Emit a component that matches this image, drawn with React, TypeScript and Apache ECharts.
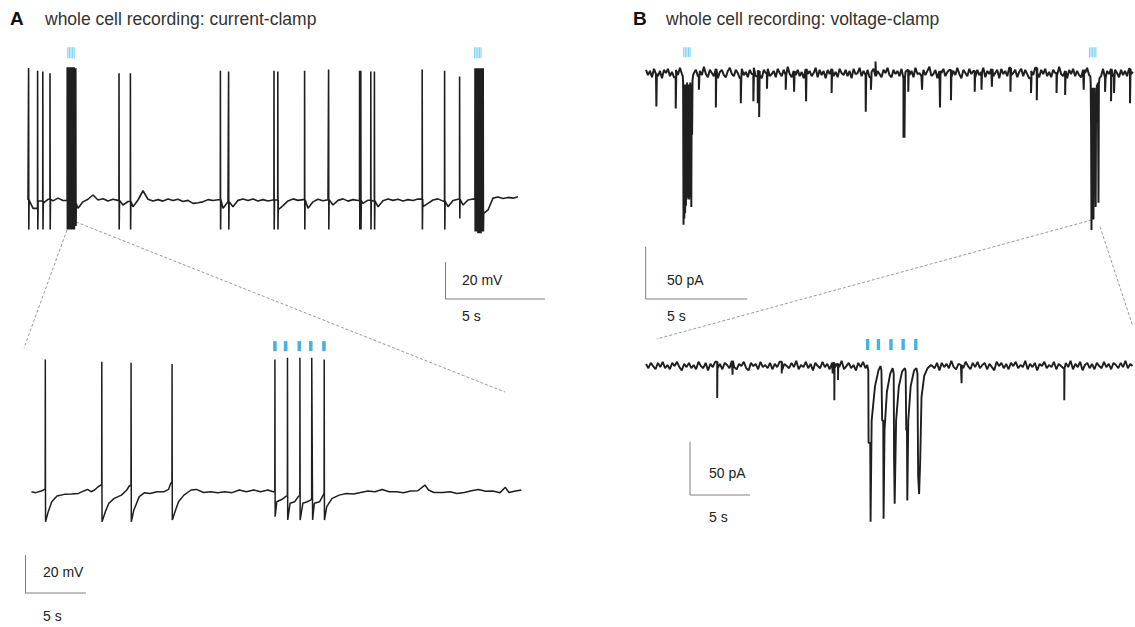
import React, { useEffect, useRef } from 'react';
import * as echarts from 'echarts';

// ---------- DATA ----------
// Panel A top (current clamp, overview): baseline samples (mV) every 0.25 s
const BASE_DT_A = 0.25;
const baseTopA = [
  -60.0, -64.5, -60.5, -61.8, -59.6, -60.5, -59.0, -60.3, -60.0, -62.0,
  -64.5, -61.0, -59.6, -57.3, -60.0, -59.3, -60.5, -59.6, -60.2, -62.7,
  -60.8, -63.6, -60.0, -55.0, -59.6, -60.5, -59.8, -60.6, -59.5, -60.3,
  -59.6, -60.8, -60.2, -61.8, -61.5, -61.0, -59.8, -60.3, -59.9, -64.5,
  -61.0, -63.6, -60.2, -59.5, -60.3, -59.4, -60.5, -59.8, -60.5, -60.0,
  -65.4, -63.0, -60.5, -59.4, -60.2, -59.8, -64.5, -61.0, -59.6, -60.4,
  -59.9, -62.7, -60.2, -59.4, -60.6, -59.8, -60.3, -61.8, -60.1, -60.5,
  -63.6, -60.4, -59.5, -60.2, -59.6, -60.5, -59.8, -60.3, -59.5, -63.6,
  -61.8, -60.0, -59.4, -60.6, -63.6, -60.3, -59.6, -62.7, -60.0, -59.5,
  -62.0, -67.2, -65.4, -59.0, -58.4, -59.2, -58.6, -59.0, -58.2,
];
// spikes: [time s, peak mV, trough mV]
const spikesTopA = [
  [0.03, 11.4, -76], [0.48, 9.9, -76], [0.74, 9.4, -76], [1.10, 8.5, -76],
  [1.96, 11.7, -76], [2.03, 11.7, -76], [2.10, 11.7, -76], [2.17, 11.7, -76],
  [2.24, 11.7, -76], [2.31, 11.7, -76], [2.39, 11.2, -74],
  [4.55, 8.5, -76], [5.12, 8.5, -76], [9.62, 9.9, -76], [10.03, 9.4, -76],
  [12.30, 9.9, -76], [12.49, 9.4, -76], [13.83, 9.9, -76], [15.03, 10.6, -76],
  [16.58, 9.9, -76], [16.64, 9.9, -76], [17.14, 9.4, -76], [17.32, 9.4, -76],
  [19.71, 10.6, -76], [20.83, 9.9, -76], [21.58, 6.7, -70],
  [22.35, 11.2, -77], [22.42, 11.2, -77], [22.49, 11.2, -78], [22.56, 11.2, -78],
  [22.64, 11.2, -78], [22.71, 11.2, -77], [22.76, 11.2, -77],
];
const stimTopA = [1.99, 2.07, 2.15, 2.23, 2.31, 22.33, 22.41, 22.49, 22.57, 22.65];

// Panel A bottom (expanded): [time s, mV]
const traceBottomA = [
  [0, -60], [0.35, -60.5], [0.8, -59.6], [1.0, -59.1],
  [1.13, -58.5], [1.14, 9.6], [1.16, -75.8], [1.38, -70.5], [1.67, -65.3], [2.1, -62.3],
  [2.7, -61.4], [3.28, -61.2], [3.86, -60.9], [4.3, -59.6], [4.6, -58.8], [4.89, -60],
  [5.18, -59.1], [5.47, -57.4], [5.7, -56.5],
  [5.76, -56.0], [5.77, 8.4], [5.79, -75.8], [6.06, -70.5], [6.35, -66.1], [6.79, -63.5],
  [7.38, -61.8], [7.82, -59.1], [8.02, -57],
  [8.16, -56.5], [8.17, 7.9], [8.19, -75.8], [8.4, -69.6], [8.84, -62.6], [9.28, -60.5],
  [9.72, -60.9], [10.3, -60], [10.89, -60], [11.24, -58.8], [11.42, -55.6],
  [11.52, -55.0], [11.53, 7.2], [11.55, -74.9], [11.77, -70.5], [12.06, -65.3], [12.5, -61.8],
  [13.09, -59.1], [13.52, -58.8], [14.11, -60.4], [14.7, -60], [15.28, -60.5],
  [15.87, -60], [16.45, -60.5], [17.04, -59.1], [17.62, -60], [18.21, -59.1],
  [18.79, -60], [19.38, -59.1], [19.82, -60],
  [19.95, -60], [19.96, 9.6], [19.98, -73.2], [20.11, -65.3], [20.55, -64], [20.84, -62.6],
  [20.98, -62.0], [20.99, 10.5], [21.01, -74.9], [21.2, -66.1], [21.58, -65.3], [21.87, -62.6],
  [22.0, -62.0], [22.01, 10.5], [22.03, -74.9], [22.25, -66.1], [22.6, -65.3], [22.89, -64.4],
  [22.97, -63.5], [22.98, 10.5], [23.05, -74.9], [23.19, -66.1], [23.62, -65.3], [23.92, -61.8],
  [23.99, -61.0], [24.0, 9.6], [24.02, -74.9], [24.21, -67.9], [24.65, -63.5], [25.23, -61.8],
  [25.82, -60.9], [26.4, -61.2], [26.99, -60.4], [27.58, -59.6], [28.16, -60],
  [28.75, -58.8], [29.33, -60], [29.92, -60], [30.5, -60.5], [31.09, -59.6],
  [31.67, -59.5], [32.26, -56.5], [32.55, -59.1], [33.0, -60.4], [33.72, -60.4],
  [34.31, -60], [34.89, -60.9], [35.48, -60.4], [36.07, -59.5], [36.65, -58.8],
  [37.24, -59.8], [37.82, -59.6], [38.41, -60.5], [38.85, -57.7], [39.14, -60.4],
  [39.58, -59.8], [40.16, -59.1],
];
const stimBottomA = [19.96, 20.84, 21.96, 22.9, 23.98];

// Panel B top (voltage clamp, overview): baseline noise (pA) every 0.1 s
const BASE_DT_BT = 0.1;
const baseTopB = [
  2, -3, 1, -5, 3, -2, -4, 1, -6, 2,
  -1, 3, -4, 0, -5, 2, -3, 4, -2, -6,
  1, -3, 3, -5, -1, 2, -4, 1, -3, 5,
  -2, -5, 2, -1, -4, 3, -6, 0, 2, -3,
  -5, 1, 4, -2, -4, 2, -1, -6, 3, -3,
  0, -5, 2, -2, 4, -4, 1, -3, -6, 2,
  -1, 3, -4, -2, 1, -5, 3, -1, -4, 2,
  -3, 5, -2, -5, 1, -3, 2, -4, 0, -6,
  3, -2, 1, -4, -1, 4, -5, 2, -3, 1,
  -6, 2, -2, 3, -4, 0, -5, 3, -1, -3,
  2, -4, 1, -6, 3, -2, -1, 4, -4, 1,
  -3, 2, -5, 0, 3, -4, 1, -2, -5, 2,
  -1, 4, -3, -5, 2, -2, 1, -4, 3, -6,
  0, 2, -3, 1, -5, 4, -2, -1, -4, 2,
  -3, 1, 5, -4, -2, 2, -6, 1, -1, 3,
  -4, 0, 2, -5, 1, -3, 4, -2, -6, 2,
  -1, -4, 3, -2, 1, -5, 2, -3, 0, 4,
  -5, 1, -2, 3, -4, -1, 2, -6, 3, -2,
  1, -4, 4, -3, -1, 2, -5, 0, 3, -4,
  2, -2, -6, 1, -3, 4, -1, -5, 2, -2,
  3, -4, 0, -5, 2, -1, -3, 5, -2, -4,
  1, -6, 2, -2, 3, -4, 1, -3, -5, 2,
  -1, 4, -3, 0, -5, 2, -2, 1, -4, 3,
  -6, 1, -2, 3, -4, 2, -1, -5, 2, -3,
  1, -4, 3, -2, 0,
];
// single events: [time s, amplitude pA]
const eventsTopB = [
  [0.52, -33], [1.49, -35], [2.65, -17], [3.5, -34], [4.75, -30], [5.38, -28],
  [5.6, -30], [5.67, -43], [6.06, -16], [7.0, -17], [7.42, -19], [8.02, -28],
  [9.3, -20], [11.01, -38], [11.27, -17], [11.5, 10], [12.9, -63], [12.95, -63],
  [13.14, -19], [13.83, -17], [14.73, -34], [15.28, -27], [16.47, -19], [16.81, -17],
  [17.33, -14], [18.26, -19], [19.29, -20], [19.58, -27], [20.57, -20], [21.0, -22],
  [21.93, -17], [23.0, -19], [23.3, -28], [23.45, -20], [24.25, -30],
];
// evoked bursts: [time s, pA]
const burst1TopB = [
  [1.84, -4], [1.86, -10], [1.88, -146], [1.9, -12], [1.92, -140], [1.94, -15],
  [1.96, -135], [1.98, -12], [2.0, -128], [2.02, -15], [2.04, -122], [2.06, -10],
  [2.08, -120], [2.1, -14], [2.12, -118], [2.14, -12], [2.16, -122], [2.18, -15],
  [2.2, -120], [2.22, -10], [2.24, -118], [2.26, -14], [2.27, -129], [2.29, -12],
  [2.31, -60], [2.33, -8], [2.36, -3],
];
const burst2TopB = [
  [22.26, -4], [22.28, -10], [22.3, -50], [22.32, -151], [22.34, -20], [22.36, -55],
  [22.38, -15], [22.4, -52], [22.42, -141], [22.44, -18], [22.46, -54], [22.48, -15],
  [22.5, -50], [22.53, -129], [22.55, -20], [22.57, -48], [22.59, -12], [22.62, -30],
  [22.64, -10], [22.67, -125], [22.69, -12], [22.72, -6],
];
const stimTopB = [1.89, 1.97, 2.05, 2.13, 2.21, 22.22, 22.3, 22.38, 22.46, 22.54];

// Panel B bottom (expanded): baseline noise (pA) every 0.2 s
const BASE_DT_BB = 0.2;
const baseBottomB = [
  1, -3, 2, -1, -4, 2, -2, 3, -3, 0,
  -4, 2, -1, 3, -2, -5, 1, -2, 2, -3,
  0, -4, 3, -1, -3, 2, -5, 1, -2, 3,
  -3, 1, -4, 2, 0, -3, 4, -2, -4, 1,
  -1, 3, -3, -5, 2, -1, 1, -4, 3, -2,
  0, -3, 2, -4, 1, -2, 3, -5, 1, -1,
  -3, 2, -2, 4, -4, 0, -2, 3, -3, 1,
  -5, 2, -1, -3, 3, -2, 1, -4, 2, -3,
  1, -2, 4, -4, -1, 2, -3, 0, -5, 2,
  -2, 3, -3, 1, -4, 2, -1, -3, 3, -2,
  0, -4, 2, -2, 3, -5, 1, -1, -3, 2,
  -2, 4, -3, 0, -4, 1, -2, 3, -4, 1,
  -1, -3, 2, -5, 2, -2, 1, -3, 4, -2,
  -4, 1, 0, -3, 3, -1, -4, 2, -2, 3,
  -3, 0, 2, -4, 1, -2, -5, 3, -1, 2,
  -3, 1, -4, 2, -1, 3, -3, 0, -2, 4,
  -4, 1, -2, 2, -5, 1, -1, 3, -3, 0,
  -2, 3, -4, 1, -1, -3, 2, -2, 4, -4,
  1, -2, 3, -5, 0, 2, -3, 1, -4, 2,
  -1, -3, 3, -2, 1, -4, 2, 0, -3, 2,
  -2, 4, -3, 1, -1,
];
const eventsBottomB = [
  [5.97, -31], [7.26, -9], [11.38, -8], [15.65, -8], [15.79, -33], [16.1, -14],
  [26.46, -17], [35.07, -33],
];
const evokedBottomB = [
  [18.55, 0], [18.64, -5], [18.66, -73], [18.8, -73], [18.83, -147], [18.92, -52],
  [19.2, -20], [19.49, -5], [19.66, -1],
  [19.74, -5], [19.8, -52], [19.89, -52], [19.92, -144], [20.0, -61], [20.2, -25],
  [20.48, -8], [20.68, -3],
  [20.77, -8], [20.8, -89], [20.83, -89], [20.85, -130], [20.97, -52], [21.2, -20],
  [21.48, -6], [21.71, -3],
  [21.77, -6], [21.82, -61], [21.88, -61], [21.91, -127], [21.99, -52], [22.19, -20],
  [22.48, -5], [22.67, -3],
  [22.76, -8], [22.82, -105], [22.87, -105], [22.9, -121], [22.99, -90], [23.1, -30],
  [23.33, -10], [23.61, -3], [23.9, 0],
];
const stimBottomB = [18.58, 19.49, 20.54, 21.56, 22.62];

// ---------- helpers ----------
type Pt = number[];
function buildTrace(base: number[], dt: number, events: number[][], segments: Pt[][]): Pt[] {
  const items: { t: number; k: string; v?: number; e?: number[]; g?: Pt[] }[] = [];
  base.forEach((v, i) => {
    const t = i * dt;
    const inside = segments.some((g) => t >= g[0][0] && t <= g[g.length - 1][0]);
    if (!inside) items.push({ t, k: 'b', v });
  });
  events.forEach((e) => items.push({ t: e[0], k: 'e', e }));
  segments.forEach((g) => items.push({ t: g[0][0], k: 'g', g }));
  items.sort((a, b) => a.t - b.t);
  const out: Pt[] = [];
  let last = base[0];
  for (const it of items) {
    if (it.k === 'b') {
      out.push([it.t, it.v as number]);
      last = it.v as number;
    } else if (it.k === 'e') {
      const e = it.e as number[];
      out.push([e[0] - 0.004, last], [e[0], e[1]]);
      if (e.length > 2) out.push([e[0] + 0.01, e[2]]);
      out.push([e[0] + 0.025, last]);
    } else {
      const g = it.g as Pt[];
      g.forEach((p) => out.push(p));
      last = g[g.length - 1][1];
    }
  }
  return out;
}

const FONT = '"Liberation Sans", Arial, Helvetica, sans-serif';
const TRACE = '#1f1f1f';
const LIGHT_BLUE = '#5cc8f0';
const BLUE = '#1a9ed8';
const BAR = '#808080';
const DASH = '#9a9a9a';

function txt(text: string, x: number, y: number, size: number, color: string, bold = false) {
  return {
    type: 'text',
    x,
    y,
    silent: true,
    style: {
      text,
      font: `${bold ? 'bold ' : ''}${size}px ${FONT}`,
      fill: color,
      textVerticalAlign: 'middle',
      verticalAlign: 'middle',
    },
  };
}
function ln(x1: number, y1: number, x2: number, y2: number, color: string, dash?: number[]) {
  return {
    type: 'line',
    silent: true,
    shape: { x1, y1, x2, y2 },
    style: { stroke: color, lineWidth: 1, lineDash: dash },
  };
}

export default function App() {
  const ref = useRef<HTMLDivElement>(null);
  useEffect(() => {
    document.body.style.margin = '0';
    const chart = echarts.init(ref.current as HTMLDivElement, null, { renderer: 'svg' });

    const topA = buildTrace(baseTopA, BASE_DT_A, spikesTopA, []);
    const topB = buildTrace(baseTopB, BASE_DT_BT, eventsTopB, [burst1TopB, burst2TopB]);
    const botB = buildTrace(baseBottomB, BASE_DT_BB, eventsBottomB, [evokedBottomB]);

    const grids = [
      { left: 28, top: 42.75, width: 500, height: 194.25 },
      { left: 31.4, top: 339.7, width: 500.2, height: 190 },
      { left: 646, top: 40.6, width: 490, height: 198.7 },
      { left: 646, top: 333, width: 492, height: 202.7 },
    ];
    const xr = [[0, 25], [0, 41], [0, 24.5], [0, 41]];
    const yr = [[-80, 25], [-80, 20], [-160, 30], [-160, 30]];

    const lineSeries = (data: Pt[], idx: number, width: number) => ({
      type: 'line',
      xAxisIndex: idx,
      yAxisIndex: idx,
      data,
      symbol: 'none',
      silent: true,
      lineStyle: { color: TRACE, width },
      z: 3,
    });
    const stimSeries = (times: number[], level: number, idx: number, size: number[], color: string) => ({
      type: 'scatter',
      xAxisIndex: idx,
      yAxisIndex: idx,
      data: times.map((t) => [t, level]),
      symbol: 'rect',
      symbolSize: size,
      silent: true,
      itemStyle: { color },
      z: 4,
    });

    chart.setOption({
      animation: false,
      backgroundColor: '#ffffff',
      grid: grids.map((g) => ({ ...g, containLabel: false })),
      xAxis: xr.map((r, i) => ({ type: 'value', gridIndex: i, min: r[0], max: r[1], show: false })),
      yAxis: yr.map((r, i) => ({ type: 'value', gridIndex: i, min: r[0], max: r[1], show: false })),
      series: [
        lineSeries(topA, 0, 1.6),
        lineSeries(traceBottomA, 1, 1.5),
        lineSeries(topB, 2, 2.0),
        lineSeries(botB, 3, 1.9),
        stimSeries(stimTopA, 19.6, 0, [1.1, 11], LIGHT_BLUE),
        stimSeries(stimBottomA, 16.6, 1, [3.6, 10], BLUE),
        stimSeries(stimTopB, 18.8, 2, [1.1, 10], LIGHT_BLUE),
        stimSeries(stimBottomB, 19.2, 3, [3.4, 11], BLUE),
      ],
      graphic: [
        txt('A', 10, 18, 19, '#111', true),
        txt('whole cell recording: current-clamp', 45, 18.5, 17.5, '#333'),
        txt('B', 633, 18, 19, '#111', true),
        txt('whole cell recording: voltage-clamp', 666, 18.5, 17.5, '#333'),
        // scale bars A top
        ln(445.5, 262, 445.5, 299, BAR),
        ln(445, 299, 545, 299, BAR),
        txt('20 mV', 462, 280, 14, '#222'),
        txt('5 s', 462, 316, 14, '#222'),
        // scale bars A bottom
        ln(25.5, 555, 25.5, 593, BAR),
        ln(25, 593, 86, 593, BAR),
        txt('20 mV', 43, 572, 14, '#222'),
        txt('5 s', 43, 616, 14, '#222'),
        // scale bars B top
        ln(645.7, 246.7, 645.7, 299, BAR),
        ln(645.5, 299, 747.3, 299, BAR),
        txt('50 pA', 667, 280, 14, '#222'),
        txt('5 s', 667, 316, 14, '#222'),
        // scale bars B bottom
        ln(690, 441.7, 690, 495, BAR),
        ln(690, 495, 750, 495, BAR),
        txt('50 pA', 709, 472.7, 14, '#222'),
        txt('5 s', 709, 517, 14, '#222'),
        // zoom lines
        ln(67, 230, 24, 348, DASH, [3, 2]),
        ln(76, 222, 505, 392, DASH, [3, 2]),
        ln(1091.7, 220, 656.7, 339, DASH, [3, 2]),
        ln(1100, 226.7, 1133, 326.7, DASH, [3, 2]),
      ],
    });
    return () => chart.dispose();
  }, []);
  return <div ref={ref} style={{ width: 1135, height: 627 }} />;
}
